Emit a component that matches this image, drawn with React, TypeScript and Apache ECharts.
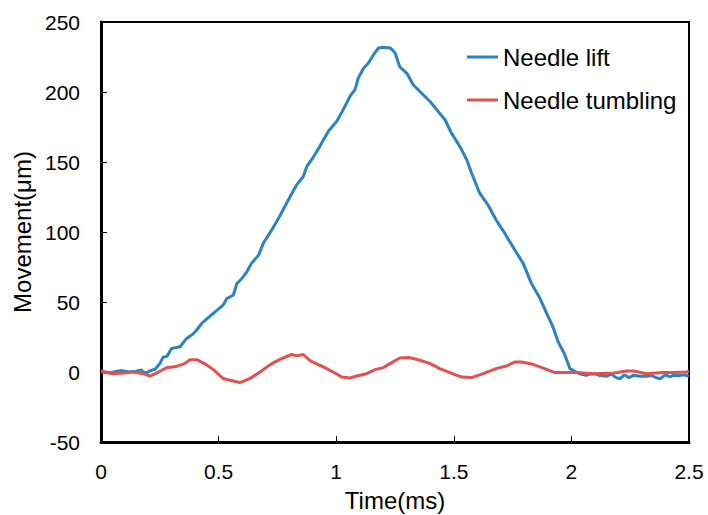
import { useEffect, useRef } from 'react';
import * as echarts from 'echarts';

// Needle lift trace (time in ms, movement in µm)
const liftTime = [
  0, 0.04, 0.07, 0.09, 0.12, 0.15, 0.17, 0.19, 0.21, 0.23, 0.25, 0.265, 0.28, 0.3, 0.336, 0.364, 0.39, 0.407,
  0.43, 0.45, 0.485, 0.52, 0.535, 0.563, 0.577, 0.6, 0.62, 0.64, 0.67, 0.69, 0.726, 0.762, 0.797, 0.832, 0.86,
  0.875, 0.9, 0.93, 0.966, 1.002, 1.03, 1.059, 1.08, 1.094, 1.116, 1.137, 1.16, 1.18, 1.2, 1.23, 1.25, 1.27,
  1.3, 1.328, 1.37, 1.4, 1.434, 1.463, 1.49, 1.526, 1.555, 1.576, 1.61, 1.645, 1.68, 1.717, 1.76, 1.795, 1.83,
  1.866, 1.895, 1.922, 1.944, 1.97, 1.994, 2.02, 2.04, 2.063, 2.08, 2.1, 2.12, 2.15, 2.17, 2.19, 2.207, 2.225,
  2.245, 2.264, 2.29, 2.32, 2.34, 2.36, 2.377, 2.4, 2.42, 2.433, 2.46, 2.48, 2.5,
];
const liftValue = [
  0, -0.5, 0.5, 1, 0, 0.5, 1.5, -1, 1, 2, 6, 10.8, 11, 16.8, 18, 24, 27, 30,
  35, 38, 43, 48, 52.5, 55, 63, 67, 71.6, 77.6, 83.5, 92, 101.5, 112, 123, 133.7, 139.6,
  146.8, 152.8, 161, 171.8, 179, 187.4, 197, 201.7, 210, 217, 220.7, 227, 231.5, 232, 231.5, 228, 218,
  213.5, 205, 198, 193, 186, 180, 170.7, 161, 151.6, 142, 127.7, 119.4, 108.6, 99, 87, 77.6, 63.3,
  52.6, 41.8, 32, 21.5, 13, 2.4, 0, -1.5, -2.4, -1.5, -1.2, -2.5, -3, -1.5, -4, -4.8, -2,
  -4, -2.4, -3, -3, -2.5, -4, -4.8, -2, -3.5, -2.4, -2.5, -2, -3,
];

// Needle tumbling trace
const tumbleTime = [
  0, 0.05, 0.095, 0.137, 0.18, 0.208, 0.237, 0.28, 0.32, 0.356, 0.378, 0.407, 0.44, 0.478, 0.52, 0.563, 0.59,
  0.633, 0.676, 0.726, 0.768, 0.81, 0.832, 0.86, 0.89, 0.945, 0.995, 1.023, 1.059, 1.087, 1.13, 1.165, 1.2,
  1.229, 1.27, 1.31, 1.356, 1.4, 1.44, 1.484, 1.533, 1.576, 1.625, 1.68, 1.724, 1.76, 1.788, 1.837, 1.894,
  1.93, 2.02, 2.094, 2.18, 2.234, 2.265, 2.32, 2.39, 2.434, 2.49, 2.5,
];
const tumbleValue = [
  0.7, -1.2, -0.7, 0, -1.2, -2.9, -0.7, 3.1, 4, 6, 8.8, 8.8, 6, 1.7, -4.7, -6.4, -7.6,
  -4.7, 0, 6, 9.6, 12.5, 11.5, 12.5, 7.9, 3.6, -0.7, -3.6, -4.3, -2.9, -1.2, 1.7, 3.1,
  6, 10, 10.3, 8.4, 6, 2.4, -0.4, -3.6, -4, -1.2, 2.4, 4.3, 7.2, 7.2, 5.5, 1.9,
  -0.4, -0.4, -1.2, -0.7, 0.7, 0.7, -1.2, -0.4, -0.4, 0, 0.7,
];

const FONT = '"Liberation Sans", Arial, sans-serif';
const BLUE = '#2b83c6';
const RED = '#e0514f';

const pairs = (xs: number[], ys: number[]) => xs.map((x, i) => [x, ys[i]]);

export default function App() {
  const chartRef = useRef<HTMLDivElement>(null);

  useEffect(() => {
    if (!chartRef.current) return;
    const chart = echarts.init(chartRef.current, null, { renderer: 'svg' });

    const tickText = { color: '#000', fontSize: 21, fontFamily: FONT };
    const titleText = { color: '#000', fontSize: 24, fontFamily: FONT };

    chart.setOption({
      animation: false,
      backgroundColor: '#fff',
      grid: {
        left: 101, right: 19, top: 22, bottom: 73,
        outerBoundsMode: 'none',
        containLabel: false,
        show: true, borderColor: '#000', borderWidth: 2,
      },
      legend: {
        orient: 'vertical',
        left: 462,
        top: 40,
        icon: 'rect',
        itemWidth: 31,
        itemHeight: 3,
        itemGap: 19,
        textStyle: { ...titleText },
        data: ['Needle lift', 'Needle tumbling'],
      },
      xAxis: {
        type: 'value',
        min: 0, max: 2.5, interval: 0.5,
        name: 'Time(ms)',
        nameLocation: 'middle',
        nameGap: 46,
        nameTextStyle: { ...titleText, lineHeight: 24 },
        axisLine: { onZero: false, lineStyle: { color: '#000', width: 3 } },
        axisTick: { inside: true, length: 6, lineStyle: { color: '#000', width: 1 } },
        axisLabel: { ...tickText, margin: 19 },
        splitLine: { show: false },
      },
      yAxis: {
        type: 'value',
        min: -50, max: 250, interval: 50,
        name: 'Movement(μm)',
        nameLocation: 'middle',
        nameGap: 63,
        nameTextStyle: { ...titleText },
        axisLine: { show: true, lineStyle: { color: '#000', width: 3 } },
        axisTick: { show: true, inside: true, length: 6, lineStyle: { color: '#000', width: 1 } },
        axisLabel: { ...tickText, margin: 21 },
        splitLine: { show: false },
      },
      series: [
        {
          name: 'Needle lift',
          type: 'line',
          data: pairs(liftTime, liftValue),
          showSymbol: false,
          color: BLUE,
          lineStyle: { color: BLUE, width: 3 },
        },
        {
          name: 'Needle tumbling',
          type: 'line',
          data: pairs(tumbleTime, tumbleValue),
          showSymbol: false,
          color: RED,
          lineStyle: { color: RED, width: 3 },
        },
      ],
    });

    return () => chart.dispose();
  }, []);

  return (
    <div
      ref={chartRef}
      style={{ position: 'fixed', left: 0, top: 0, width: '708px', height: '515px' }}
    />
  );
}
